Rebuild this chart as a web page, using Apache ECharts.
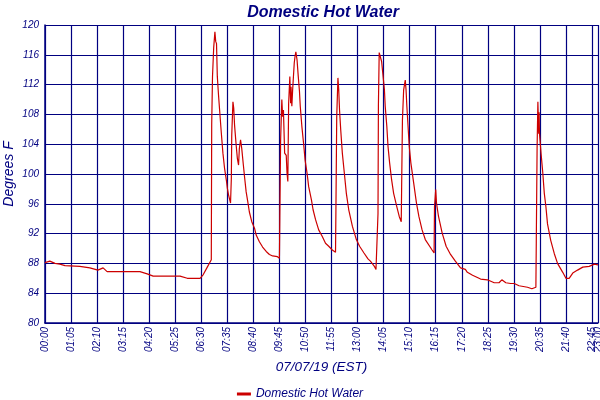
<!DOCTYPE html>
<html>
<head>
<meta charset="utf-8">
<script src="https://cdn.jsdelivr.net/npm/echarts@6/dist/echarts.min.js"></script>
<style>html,body{margin:0;padding:0;background:#fff}#c{width:600px;height:400px}</style>
</head>
<body>
<div id="c"></div>
<script>
// Time of day in minutes after midnight
var timeMin = [0,12,25,37,50,87,112,132,145,155,212,237,255,270,337,355,387,395,405,415,
416,418,421,424,426,428,430,433,436,440,444,448,453,455,458,463,465,466,469,471,473,477,480,483,485,488,491,495,498,502,506,510,516,523,527,535,543,552,560,568,580,
585,586,588,591,593,595,598,602,604,606,608,611,613,614,616,618,622,624,626,629,632,635,637,641,646,649,654,658,665,669,675,683,692,700,708,717,
725,726,728,731,733,735,738,742,747,752,758,767,777,785,796,806,812,822,826,
830,831,832,834,837,840,843,847,849,853,856,860,865,870,878,884,889,
890,892,895,899,901,903,906,909,913,920,927,933,941,949,966,971,
972,975,977,982,991,1001,1012,1024,1037,1049,1054,1067,1087,1104,1121,1133,1140,1150,1162,1171,1183,1204,1215,1225,
1226,1228,1230,1232,1233,1234,1238,1242,1246,1250,1254,1262,1271,1279,1292,1300,1308,1317,1329,1342,1358,1371,1380];
// Domestic hot water temperature, degrees F
var tempF = [88.1,88.3,88.0,87.9,87.7,87.6,87.4,87.1,87.4,86.9,86.9,86.9,86.6,86.3,86.3,86.0,86.0,86.5,87.5,88.5,
106.6,113.1,117.0,119.1,117.8,117.5,113.1,110.6,108.4,105.5,102.8,100.8,99.0,98.1,97.2,96.1,99.4,105.2,109.7,108.8,106.6,103.9,102.1,101.2,103.4,104.6,103.4,101.2,99.6,97.6,96.3,94.9,93.6,92.7,91.8,90.9,90.2,89.6,89.2,89.0,88.9,
88.7,94.1,104.6,110.0,107.7,108.6,102.8,102.5,100.1,99.0,109.5,113.1,109.5,111.7,109.1,111.3,114.9,115.8,116.4,115.3,113.1,111.1,109.1,106.4,103.7,101.9,100.1,98.3,96.5,95.2,93.9,92.5,91.6,90.7,90.3,89.8,
89.5,95.2,107.7,112.9,111.3,108.6,105.9,102.8,100.1,97.4,95.2,93.0,91.2,90.3,89.4,88.6,88.3,87.6,87.2,
87.4,94.7,109.1,116.3,116.2,115.1,113.5,111.3,109.1,106.4,103.7,101.5,99.2,97.4,95.6,94.3,93.6,
98.3,107.3,111.3,112.6,111.3,109.1,106.4,103.7,101.5,98.8,96.1,94.3,92.5,91.2,89.8,89.4,
95.6,97.9,96.1,94.3,92.1,90.3,89.2,88.3,87.4,87.2,86.8,86.4,85.9,85.8,85.4,85.4,85.8,85.4,85.3,85.3,85.0,84.8,84.6,84.8,
90.9,103.4,109.7,105.4,108.3,105.4,102.7,100.3,97.4,95.6,93.3,91.1,89.3,88.0,86.8,86.0,86.0,86.7,87.1,87.5,87.6,87.9,87.8];

var seriesName = 'Domestic Hot Water';
var titleText = 'Domestic Hot Water';
var xAxisTitle = '07/07/19 (EST)';
var yAxisTitle = 'Degrees F';
var yTicks = [80,84,88,92,96,100,104,108,112,116,120];
var xTickStep = 65;   // minutes between labelled ticks
var xEnd = 1380;      // 23:00, last label

var points = timeMin.map(function (t, i) { return [t, tempF[i]]; });
var navy = '#000080';
var lblFont = {fontFamily: 'Liberation Sans', fontStyle: 'italic', fontSize: 10, color: navy};

function hhmm(v) {
  var h = Math.floor(v / 60), m = Math.round(v % 60);
  return (h < 10 ? '0' : '') + h + ':' + (m < 10 ? '0' : '') + m;
}

var chart = echarts.init(document.getElementById('c'), null, {renderer: 'canvas'});
chart.setOption({
  animation: false,
  backgroundColor: '#ffffff',
  title: {
    text: titleText, left: 318, top: 0, textAlign: 'center',
    textStyle: {fontFamily: 'Liberation Sans', fontStyle: 'italic', fontWeight: 'bold', fontSize: 16, color: navy}
  },
  legend: {
    data: [seriesName], left: 'center', top: 383,
    icon: 'rect', itemWidth: 14, itemHeight: 3, itemGap: 4,
    textStyle: {fontFamily: 'Liberation Sans', fontStyle: 'italic', fontSize: 12, color: navy}
  },
  grid: {left: 45, right: 2, top: 25, bottom: 77, containLabel: false, outerBoundsMode: 'none'},
  xAxis: [{
    type: 'value', min: 0, max: xEnd, interval: xTickStep,
    name: xAxisTitle, nameLocation: 'middle', nameGap: 36,
    nameTextStyle: {fontFamily: 'Liberation Sans', fontStyle: 'italic', fontSize: 13.5, color: navy},
    axisLine: {show: true, lineStyle: {color: navy, width: 1.5}},
    axisTick: {show: false},
    axisLabel: Object.assign({rotate: 90, margin: 4, formatter: hhmm, showMaxLabel: false, showMinLabel: true}, lblFont),
    splitLine: {show: true, lineStyle: {color: navy, width: 1.2}}
  }, {
    // overlay axis that only carries the final 23:00 label
    type: 'value', min: 0, max: xEnd, interval: xEnd, position: 'bottom',
    axisLine: {show: false}, axisTick: {show: false}, splitLine: {show: false},
    axisLabel: Object.assign({rotate: 90, margin: 4, showMaxLabel: true,
      formatter: function (v) { return v === xEnd ? hhmm(v) : ''; }}, lblFont)
  }],
  yAxis: {
    type: 'value', min: yTicks[0], max: yTicks[yTicks.length - 1], interval: yTicks[1] - yTicks[0],
    name: yAxisTitle, nameLocation: 'middle', nameGap: 29, nameMoveOverlap: false,
    nameTextStyle: {fontFamily: 'Liberation Sans', fontStyle: 'italic', fontSize: 14, color: navy},
    axisLine: {show: true, lineStyle: {color: navy, width: 1.5}},
    axisTick: {show: false},
    axisLabel: Object.assign({margin: 6}, lblFont),
    splitLine: {show: true, lineStyle: {color: navy, width: 1.2}}
  },
  series: [{
    name: seriesName, type: 'line', data: points, xAxisIndex: 0,
    showSymbol: false, symbol: 'none',
    lineStyle: {color: '#cc0000', width: 1.2},
    itemStyle: {color: '#cc0000'}
  }]
});
</script>
</body>
</html>
